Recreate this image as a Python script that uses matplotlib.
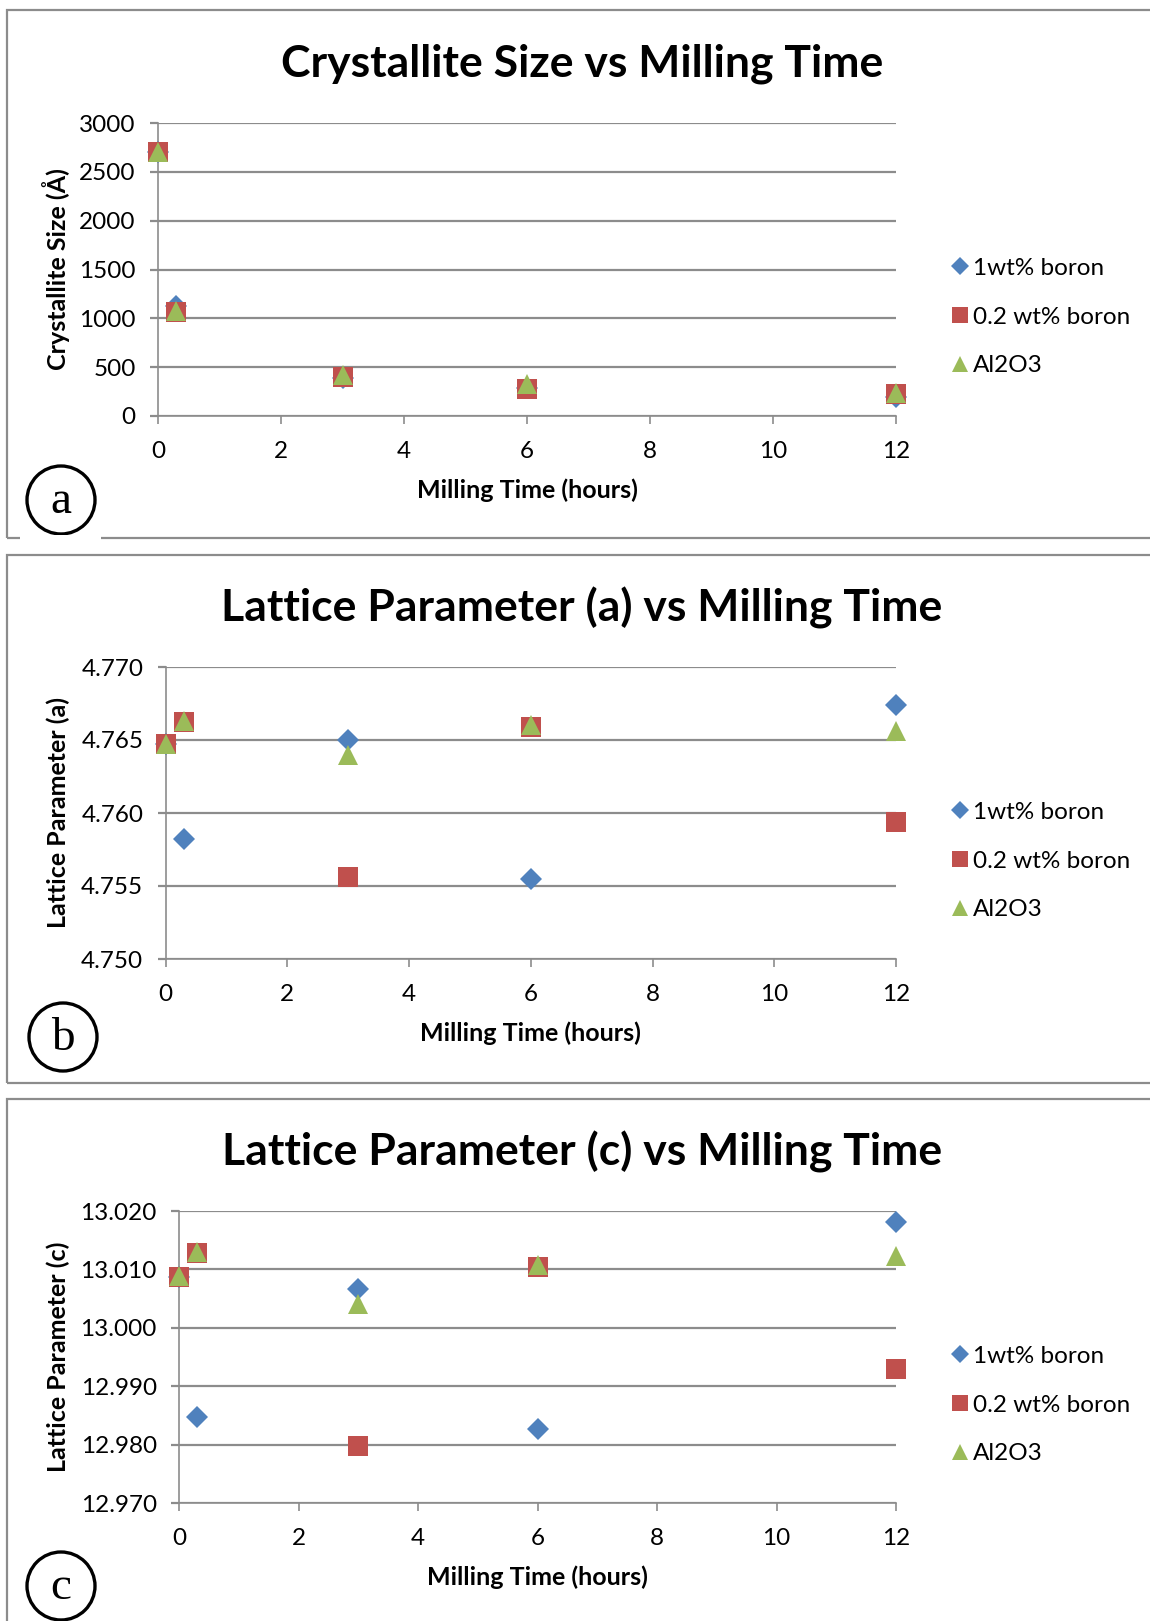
import numpy as np
import matplotlib
matplotlib.use("Agg")
import matplotlib.pyplot as plt
from matplotlib.patches import Rectangle, Ellipse
from matplotlib.ticker import FormatStrFormatter

plt.rcParams['font.family'] = ['Lato', 'DejaVu Sans']

# milling times (hours)
times = [0, 0.3, 3, 6, 12]
series_names = ["1wt% boron", "0.2 wt% boron", "Al2O3"]

# crystallite size (A)
size_1wt = [2700, 1130, 385, 290, 195]
size_02wt = [2700, 1065, 395, 280, 225]
size_al2o3 = [2700, 1075, 415, 330, 235]

# lattice parameter a
a_1wt = [4.7647, 4.7582, 4.7650, 4.7555, 4.7674]
a_02wt = [4.7647, 4.7662, 4.7556, 4.7659, 4.7594]
a_al2o3 = [4.7647, 4.7663, 4.7640, 4.7660, 4.7656]

# lattice parameter c
c_1wt = [13.0087, 12.9847, 13.0067, 12.9827, 13.0182]
c_02wt = [13.0087, 13.0128, 12.9797, 13.0104, 12.9930]
c_al2o3 = [13.0088, 13.0129, 13.0040, 13.0107, 13.0123]

colors = ["#4F81BD", "#C0504D", "#9BBB59"]
markers = ["D", "s", "^"]
msizes = [11, 14, 14]
grid_c = "#8c8c8c"

W, H = 1150, 1621
fig = plt.figure(figsize=(W / 100, H / 100), dpi=100)


def fx(px):
    return px / W


def fy(py):
    return 1 - py / H


panels = [
    dict(title="Crystallite Size vs Milling Time", ylabel="Crystallite Size (Å)",
         data=[size_1wt, size_02wt, size_al2o3], ylim=(0, 3000), step=500, fmt="%d",
         plot=(158, 123, 896, 416), box=(10, 538), circle=(61, 500), letter="a",
         title_y=64, leg_y=317),
    dict(title="Lattice Parameter (a) vs Milling Time", ylabel="Lattice Parameter (a)",
         data=[a_1wt, a_02wt, a_al2o3], ylim=(4.750, 4.770), step=0.005, fmt="%.3f",
         plot=(165.5, 667, 896, 959), box=(555, 1083), circle=(63, 1037), letter="b",
         title_y=608, leg_y=861),
    dict(title="Lattice Parameter (c) vs Milling Time", ylabel="Lattice Parameter (c)",
         data=[c_1wt, c_02wt, c_al2o3], ylim=(12.970, 13.020), step=0.010, fmt="%.3f",
         plot=(179, 1211, 896, 1503), box=(1099, 1640), circle=(61, 1586), letter="c",
         title_y=1152, leg_y=1405),
]

for p in panels:
    # panel frame
    top, bot = p["box"]
    fig.patches.append(Rectangle((fx(7), fy(bot)), fx(1160 - 7), fy(top) - fy(bot),
                                 transform=fig.transFigure, fill=False,
                                 edgecolor=grid_c, linewidth=1.6))

    x0, y0, x1, y1 = p["plot"]
    ax = fig.add_axes([fx(x0), fy(y1), fx(x1 - x0), fy(y0) - fy(y1)])
    for vals, c, m, ms, name in zip(p["data"], colors, markers, msizes, series_names):
        ax.plot(times, vals, linestyle="none", marker=m, markersize=ms, color=c,
                markeredgewidth=0, clip_on=False, label=name, zorder=3)

    lo, hi = p["ylim"]
    ax.set_xlim(0, 12)
    ax.set_ylim(lo, hi)
    ax.set_xticks(np.arange(0, 13, 2))
    ax.set_yticks(np.arange(lo, hi + p["step"] / 2, p["step"]))
    ax.yaxis.set_major_formatter(FormatStrFormatter(p["fmt"]))
    ax.grid(axis="y", color=grid_c, linewidth=1.6)
    ax.set_axisbelow(True)
    for s in ["top", "right"]:
        ax.spines[s].set_visible(False)
    for s in ["left", "bottom"]:
        ax.spines[s].set_color(grid_c)
        ax.spines[s].set_linewidth(1.2)
    ax.tick_params(axis="x", colors=grid_c, length=6, width=1.2, labelcolor="black",
                   labelsize=17.5, pad=12)
    ax.tick_params(axis="y", colors=grid_c, length=6, width=1.6, labelcolor="black",
                   labelsize=17.5, pad=10)

    ax.set_xlabel("Milling Time (hours)", fontsize=18, fontweight="bold", labelpad=12)
    ax.set_ylabel(p["ylabel"], fontsize=18, fontweight="bold")
    ax.yaxis.set_label_coords(fx(70), (fy(y0) + fy(y1)) / 2, transform=fig.transFigure)

    fig.text(fx(582), fy(p["title_y"]), p["title"], fontsize=32, fontweight="bold",
             ha="center", va="center")

    ax.legend(loc="center left", bbox_to_anchor=(fx(951), fy(p["leg_y"])),
              bbox_transform=fig.transFigure, frameon=False, fontsize=17.5,
              handlelength=0.7, handletextpad=0.2, labelspacing=1.15,
              markerscale=0.85, borderpad=0, borderaxespad=0)

    # circled panel letter
    cx, cy = p["circle"]
    fig.patches.append(Ellipse((fx(cx), fy(cy)), fx(68), 68 / H, transform=fig.transFigure,
                               fill=False, edgecolor="black", linewidth=2.4))
    fig.text(fx(cx), fy(cy + 2), p["letter"], fontsize=34, family="Liberation Serif",
             ha="center", va="center")

# gap in the first frame under the circle
fig.patches.append(Rectangle((fx(20), fy(541)), fx(81), 6 / H, transform=fig.transFigure,
                             facecolor="white", edgecolor="none", zorder=5))

fig.savefig("out.png", dpi=100)
